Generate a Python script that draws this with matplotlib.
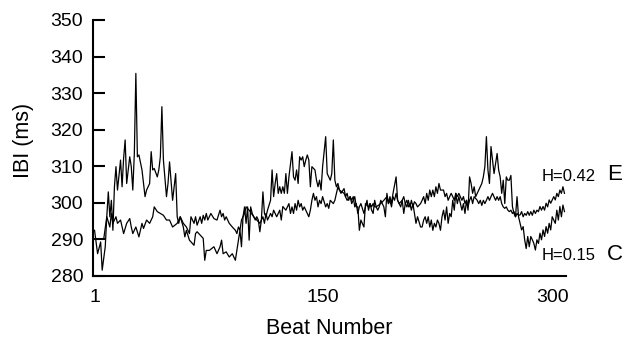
import matplotlib
matplotlib.use("Agg")
import matplotlib.pyplot as plt

plt.rcParams['font.family'] = ['Liberation Sans', 'DejaVu Sans']

# Serie C (H=0.15) - la que tiene los picos grandes
beats_c = [1, 3, 5, 6, 8, 9, 10, 11, 12, 13, 14, 15, 16, 18, 19, 20, 21, 22, 24, 25,
           26, 27, 28, 29, 30, 32, 34, 35, 37, 38, 39, 40, 42, 43, 44, 45, 46, 48, 49, 50,
           52, 54, 55, 56, 57, 59, 60, 61, 63, 66, 67, 68, 70, 72, 73, 74, 76, 79, 81, 83,
           84, 85, 87, 89, 91, 93, 94, 95, 96, 97, 98, 99, 100, 101, 102, 103, 104, 105, 106, 107,
           108, 109, 110, 111, 112, 113, 114, 116, 117, 118, 119, 120, 121, 122, 123, 124, 125, 126, 127, 128,
           130, 131, 132, 133, 134, 135, 136, 137, 138, 139, 140, 141, 142, 143, 145, 146, 147, 148, 149, 150,
           152, 153, 154, 155, 156, 157, 158, 159, 160, 161, 162, 164, 165, 166, 167, 168, 169, 170, 171, 172,
           173, 174, 175, 177, 178, 180, 181, 182, 183, 184, 185, 186, 187, 188, 190, 191, 192, 193, 194, 195,
           196, 198, 199, 200, 201, 202, 203, 204, 205, 206, 207, 208, 209, 210, 211, 212, 214, 215, 216, 217,
           218, 219, 220, 221, 222, 223, 224, 225, 226, 227, 228, 229, 230, 231, 232, 233, 234, 235, 236, 237,
           238, 239, 241, 242, 243, 244, 245, 246, 247, 248, 249, 250, 252, 253, 254, 255, 256, 257, 258, 259,
           260, 261, 262, 264, 265, 266, 267, 268, 269, 270, 271, 272, 273, 274, 275, 276, 277, 278, 279, 280,
           281, 282, 283, 284, 285, 286, 287, 288, 289, 290, 291, 292, 293, 294, 295, 296, 297, 298, 299, 300,
           302, 303, 304, 305, 306, 307, 308]
ibi_c = [292.5, 286.1, 289.3, 281.6, 288.0, 296.2, 303.0, 296.2, 300.7, 292.5, 304.4, 309.9, 303.5, 311.7, 304.4, 312.2, 317.2, 305.3, 312.6, 309.9,
         303.5, 313.5, 335.4, 312.6, 313.1, 309.0, 301.7, 303.5, 305.3, 314.0, 309.0, 309.4, 307.1, 309.0, 312.6, 326.3, 311.7, 301.7, 305.3, 311.2,
         300.7, 308.0, 296.2, 294.4, 296.2, 293.4, 290.7, 292.5, 289.8, 288.4, 291.6, 292.1, 291.2, 290.3, 284.3, 287.0, 287.0, 288.0, 286.1, 288.0,
         289.8, 286.1, 286.6, 285.2, 286.1, 284.3, 287.0, 289.8, 292.5, 288.0, 296.2, 298.9, 294.4, 298.9, 289.8, 298.9, 297.1, 296.2, 295.3, 296.2,
         295.3, 292.1, 295.3, 303.0, 297.1, 296.2, 298.0, 300.7, 309.0, 301.7, 305.3, 308.0, 302.6, 304.4, 302.6, 304.4, 302.6, 308.0, 302.6, 307.1,
         314.0, 307.1, 306.2, 309.0, 305.3, 312.6, 311.7, 312.6, 309.9, 311.7, 313.1, 311.7, 304.4, 309.9, 309.0, 306.2, 304.4, 306.2, 303.5, 309.9,
         318.1, 308.0, 307.1, 306.2, 308.0, 317.2, 306.2, 304.4, 305.3, 303.5, 302.6, 303.9, 301.7, 302.6, 300.7, 301.7, 299.8, 300.7, 301.7, 298.9,
         298.9, 292.5, 295.3, 293.4, 299.8, 298.9, 299.8, 298.0, 297.1, 300.7, 298.9, 298.0, 298.9, 300.7, 298.9, 296.2, 302.6, 299.8, 301.7, 299.8,
         302.6, 307.1, 300.7, 299.8, 298.9, 300.7, 297.1, 299.8, 300.7, 298.9, 299.8, 298.0, 299.8, 297.1, 294.4, 296.2, 293.4, 293.4, 295.3, 296.2,
         294.4, 296.2, 293.4, 295.3, 292.5, 294.4, 293.4, 295.3, 294.4, 292.5, 296.2, 298.0, 295.3, 298.9, 294.4, 297.1, 296.2, 300.7, 298.0, 302.6,
         299.8, 301.7, 298.0, 299.8, 297.1, 300.7, 298.0, 307.1, 305.3, 302.6, 304.4, 301.7, 303.5, 304.4, 305.3, 307.1, 309.9, 318.1, 309.0, 305.3,
         315.4, 311.7, 308.0, 313.5, 309.0, 307.1, 302.6, 306.2, 299.8, 307.1, 306.2, 306.2, 307.5, 299.0, 297.1, 296.2, 301.7, 296.2, 294.4, 292.6,
         293.5, 289.9, 287.5, 290.8, 288.0, 290.8, 289.9, 288.9, 287.1, 289.9, 288.9, 291.7, 289.9, 292.6, 290.8, 293.5, 291.7, 294.4, 292.6, 296.2,
         294.4, 298.0, 295.3, 299.0, 296.2, 299.4, 297.6]

# Serie E (H=0.42) - la mas suave
beats_e = [1, 7, 9, 11, 12, 13, 15, 16, 18, 20, 22, 24, 25, 26, 28, 30, 32, 33, 35, 37,
           39, 40, 42, 44, 46, 48, 50, 52, 55, 57, 59, 61, 63, 64, 66, 67, 68, 70, 71, 72,
           73, 74, 75, 76, 77, 79, 81, 83, 84, 85, 86, 87, 89, 91, 93, 94, 95, 96, 97, 98,
           99, 100, 102, 105, 107, 109, 111, 112, 113, 114, 116, 117, 118, 120, 122, 123, 124, 126, 128, 129,
           130, 131, 132, 133, 134, 135, 136, 137, 138, 140, 141, 142, 143, 144, 145, 146, 147, 148, 149, 150,
           152, 153, 154, 155, 157, 158, 159, 160, 161, 164, 166, 168, 169, 170, 171, 172, 173, 174, 175, 177,
           178, 179, 180, 181, 182, 183, 184, 185, 188, 190, 192, 193, 194, 195, 196, 197, 198, 199, 200, 202,
           203, 204, 205, 206, 207, 208, 209, 210, 211, 212, 214, 215, 216, 217, 218, 219, 220, 221, 222, 223,
           224, 225, 226, 227, 228, 229, 230, 231, 232, 233, 234, 235, 236, 237, 238, 239, 241, 242, 243, 244,
           245, 246, 247, 248, 249, 251, 252, 253, 254, 255, 256, 257, 258, 259, 260, 261, 263, 264, 265, 266,
           267, 268, 269, 270, 271, 272, 273, 274, 275, 276, 277, 278, 279, 280, 281, 282, 283, 284, 285, 286,
           287, 288, 289, 290, 291, 292, 293, 294, 295, 296, 297, 298, 299, 301, 302, 303, 304, 305, 306, 307,
           308]
ibi_e = [290.1, 290.1, 296.2, 293.4, 297.1, 294.4, 296.2, 294.4, 295.3, 291.6, 294.4, 295.7, 293.4, 291.6, 293.4, 290.7, 294.4, 293.0, 295.3, 294.4,
         296.2, 298.9, 297.6, 297.1, 296.6, 295.3, 295.3, 293.4, 294.4, 296.2, 294.4, 293.4, 291.6, 296.2, 294.4, 296.2, 293.9, 296.2, 294.4, 296.6,
         295.3, 297.1, 295.3, 296.2, 297.1, 295.7, 295.3, 298.0, 296.2, 297.1, 295.3, 296.2, 294.4, 293.4, 292.5, 291.6, 293.4, 292.5, 295.3, 296.2,
         297.1, 298.9, 298.0, 296.2, 295.3, 294.4, 296.2, 294.4, 297.1, 295.3, 297.1, 296.2, 298.0, 296.2, 298.0, 295.3, 299.0, 298.0, 299.8, 297.1,
         298.9, 297.1, 299.8, 298.0, 300.7, 298.9, 299.8, 298.0, 298.9, 297.1, 296.2, 298.0, 300.7, 302.6, 300.7, 301.7, 298.9, 300.7, 299.8, 301.7,
         298.9, 299.8, 298.5, 300.7, 299.8, 300.7, 302.6, 304.4, 303.5, 302.6, 300.7, 301.7, 300.7, 301.7, 298.9, 299.8, 297.1, 298.9, 299.8, 297.1,
         298.9, 300.7, 298.0, 299.8, 298.9, 299.8, 298.9, 298.9, 299.8, 300.7, 301.7, 299.8, 300.7, 298.9, 301.7, 300.7, 302.6, 300.7, 299.8, 300.7,
         301.7, 299.8, 298.9, 300.7, 298.9, 300.7, 298.9, 300.3, 299.8, 298.9, 299.8, 300.7, 301.7, 299.8, 302.6, 300.7, 303.5, 301.7, 303.5, 301.7,
         304.4, 302.6, 305.3, 303.5, 303.5, 303.5, 301.7, 302.6, 300.7, 301.7, 302.6, 301.7, 300.7, 302.6, 301.7, 302.6, 300.7, 301.7, 299.8, 300.7,
         298.9, 300.7, 301.7, 299.8, 301.7, 300.7, 299.8, 300.7, 299.3, 300.7, 299.8, 300.7, 301.7, 300.7, 301.7, 302.6, 300.7, 301.7, 300.7, 301.7,
         299.8, 298.9, 298.5, 298.9, 298.0, 297.6, 298.0, 297.1, 297.6, 296.2, 297.1, 296.6, 296.7, 297.6, 296.2, 297.1, 296.6, 297.6, 296.6, 297.6,
         296.6, 298.0, 297.1, 298.0, 297.6, 299.0, 298.0, 299.0, 298.0, 299.9, 298.9, 300.8, 299.9, 301.7, 300.8, 302.6, 301.7, 303.5, 302.6, 304.4,
         302.6]

y_ticks = [280, 290, 300, 310, 320, 330, 340, 350]
x_ticks = [1, 150, 300]

fig = plt.figure(figsize=(6.34, 3.4), dpi=100)
ax = fig.add_axes([93 / 634, 1 - 276 / 340, 473 / 634, 256 / 340])

ax.plot(beats_e, ibi_e, color="black", lw=0.9)
ax.plot(beats_c, ibi_c, color="black", lw=0.9)

ax.set_xlim(0, 309)
ax.set_ylim(280, 350)
ax.set_yticks(y_ticks)
ax.set_xticks(x_ticks)
ax.set_xticklabels([str(t) for t in x_ticks])

for lado in ["top", "right"]:
    ax.spines[lado].set_visible(False)
for lado in ["left", "bottom"]:
    ax.spines[lado].set_linewidth(1.5)

ax.tick_params(axis="y", direction="in", length=8.5, width=1.5, pad=7, labelsize=14)
ax.tick_params(axis="x", length=0, pad=9, labelsize=14)

fig.text(24 / 634, 1 - 140 / 340, "IBI (ms)", rotation=90, ha="center", va="center", fontsize=15.5)
fig.text(329.5 / 634, 1 - 328 / 340, "Beat Number", ha="center", va="center", fontsize=15.5)

# Etiquetas a la derecha de cada serie
fig.text(569 / 634, 1 - 176 / 340, "H=0.42", ha="center", va="center", fontsize=12)
fig.text(614.5 / 634, 1 - 175 / 340, "E", ha="center", va="center", fontsize=16)
fig.text(569 / 634, 1 - 256 / 340, "H=0.15", ha="center", va="center", fontsize=12)
fig.text(614.5 / 634, 1 - 255 / 340, "C", ha="center", va="center", fontsize=16)

fig.savefig("out.png", dpi=100)
